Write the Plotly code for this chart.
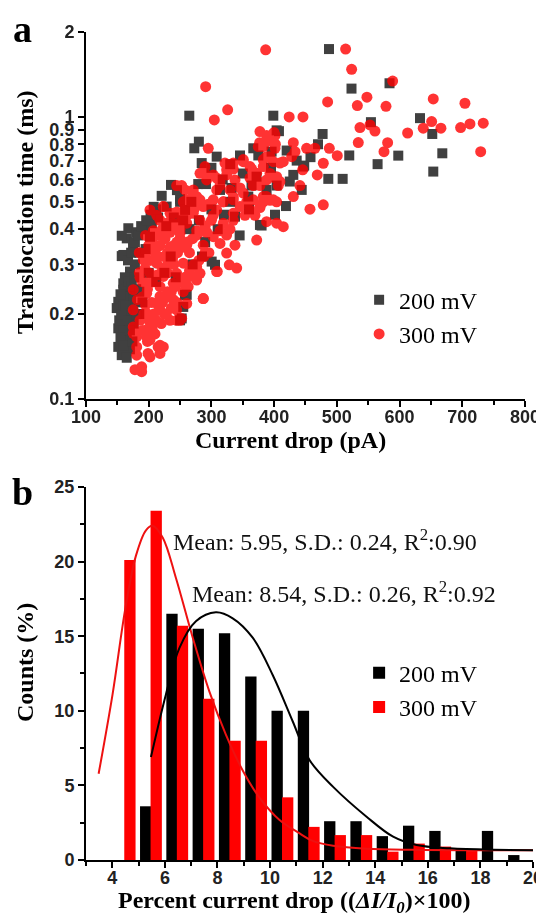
import plotly.graph_objects as go
from plotly.subplots import make_subplots

# ---- panel a: translocation time vs current drop ----
black_drop = [264.7, 398.7, 280, 272.7, 308.4, 284.5, 345.6, 366.8, 374.8, 404,
              235.5, 220.7, 279, 291.3, 228.6, 250, 258, 167.5, 194, 372,
              388, 404, 401.4, 377.4, 337.6, 313.7, 358.8, 487.5, 584, 523.4,
              554.4, 632.6, 652.2, 668.2, 653.8, 477.3, 519.8, 598, 565, 486.4,
              509.3, 418.9, 444, 448, 380, 250, 364, 165, 157, 157,
              151.5, 149, 151.5, 151.5, 157, 159.5, 165, 159.5, 170.2, 164.9,
              159.5, 170.2, 159.5, 159.5, 162.2, 159.5, 191.4, 202, 300.4, 257.9,
              250, 255.1, 305.7, 260.6, 252.6, 172, 168, 175, 165, 170,
              155, 163, 176, 180, 178, 185, 175, 180, 195, 205,
              215, 228, 240, 255, 265, 280, 290, 285, 270, 235,
              225, 212, 200, 190, 185, 243, 320, 330, 300, 268,
              318, 332, 350, 395, 420, 436, 458, 470, 425, 345,
              360, 310, 208, 245, 300, 330, 407.7, 396, 446.5, 430.6,
              153, 156, 160, 163, 167, 170, 155, 162, 168, 173,
              177, 167, 172, 178, 183, 188, 196, 203, 212, 160,
              165, 174, 180, 185]
black_time = [1.01, 1.01, 0.817, 0.774, 0.723, 0.686, 0.73, 0.774, 0.73, 0.896,
              0.574, 0.525, 0.578, 0.578, 0.481, 0.5, 0.468, 0.403, 0.4, 0.614,
              0.551, 0.571, 0.45, 0.414, 0.443, 0.551, 0.522, 1.74, 1.316, 1.26,
              0.958, 0.99, 0.87, 0.743, 0.64, 0.87, 0.73, 0.729, 0.68, 0.603,
              0.603, 0.483, 0.551, 0.672, 0.412, 0.511, 0.571, 0.371, 0.379, 0.321,
              0.221, 0.21, 0.178, 0.153, 0.143, 0.257, 0.244, 0.324, 0.283, 0.264,
              0.244, 0.231, 0.212, 0.176, 0.158, 0.145, 0.4, 0.376, 0.307, 0.234,
              0.19, 0.212, 0.299, 0.234, 0.193, 0.225, 0.2, 0.21, 0.165, 0.15,
              0.165, 0.19, 0.185, 0.245, 0.3, 0.33, 0.35, 0.39, 0.34, 0.42,
              0.44, 0.41, 0.44, 0.43, 0.4, 0.43, 0.36, 0.32, 0.3, 0.32,
              0.28, 0.26, 0.28, 0.22, 0.2, 0.27, 0.45, 0.5, 0.47, 0.5,
              0.6, 0.56, 0.63, 0.66, 0.76, 0.7, 0.72, 0.8, 0.59, 0.38,
              0.47, 0.4, 0.48, 0.55, 0.66, 0.68, 0.89, 0.753, 0.667, 0.623,
              0.19, 0.2, 0.23, 0.215, 0.19, 0.175, 0.235, 0.27, 0.26, 0.25,
              0.27, 0.31, 0.33, 0.36, 0.38, 0.41, 0.43, 0.45, 0.47, 0.155,
              0.14, 0.16, 0.2, 0.24]

red_drop = [386.5, 290.8, 325.9, 304.6, 295, 377.4, 350.8, 374.7, 400, 402,
            289.7, 202, 252.6, 271, 514, 523.6, 589, 548, 653.8, 485.3,
            532.7, 578.4, 704.3, 424, 446, 552.8, 536.9, 560.8, 651.2, 637.8,
            666, 612.9, 697.4, 712.3, 733.5, 729.4, 488, 500.7, 534.2, 581,
            575.2, 468.8, 478.4, 451.8, 465, 457.2, 478.4, 414.6, 372.2, 337.6,
            324.3, 328.5, 340.3, 309.4, 287, 276.5, 430.6, 433.3, 428, 401.4,
            398.7, 401.4, 382.7, 388, 409.3, 414.6, 393.4, 401.4, 409.3, 430.6,
            441.2, 445.5, 377.4, 382.7, 393.4, 377.4, 281.8, 292.4, 303, 313.7,
            324.3, 334.9, 361.5, 372.2, 382.7, 393.4, 406.6, 366.8, 350.8, 334.9,
            319, 303, 287, 271, 255.1, 239.2, 223.3, 212.7, 228.7, 260.6,
            276.5, 308.4, 334.9, 361.5, 382.7, 398.7, 388, 398.7, 377, 388,
            350.8, 321.6, 334.9, 364.2, 382.7, 398.7, 289.7, 308.4, 324.3, 337.6,
            313.7, 329.6, 345.6, 361.5, 374.8, 388, 404, 244.6, 257.9, 271,
            223.3, 234, 255.1, 268.5, 281.8, 295, 308.4, 319, 334.9, 345.6,
            356.2, 366.8, 377.4, 388, 404, 353.5, 369.5, 388, 404, 218,
            239.2, 260.6, 281.8, 303, 319, 334.9, 207.4, 228.7, 249.9, 276.5,
            292.4, 313.7, 329.6, 223.3, 249.9, 276.5, 303, 324.3, 212.7, 234,
            260.6, 287, 313.7, 191.4, 212.7, 234, 255.1, 276.5, 202, 223.3,
            244.6, 265.8, 281.8, 196.8, 218, 239.2, 260.6, 276.5, 308.4, 175.4,
            196.8, 218, 239.2, 260.6, 287, 175.4, 196.8, 218, 244.6, 186.1,
            207.4, 234, 249.9, 175.4, 196.8, 180.8, 202, 175.4, 196.8, 218,
            223.3, 180.8, 202, 218, 180.8, 188.8, 178.1, 188.8, 199, 215,
            244.6, 252.6, 185, 200, 215, 230, 245, 265, 290, 205,
            195, 240, 185, 190, 205, 225, 230, 210, 195, 182,
            192, 200, 208, 215, 222, 230, 236, 242, 250, 258,
            265, 272, 280, 288, 296, 190, 198, 206, 214, 222,
            230, 238, 246, 254, 262, 270, 280, 290, 300, 186,
            194, 202, 210, 218, 226, 234, 242, 252, 262, 272,
            285, 195, 205, 215, 222, 232, 245, 258, 270, 190,
            198, 206, 212, 220, 228, 236, 245, 255, 263, 230,
            240, 250, 225]
red_time = [1.73, 1.28, 1.06, 0.976, 0.774, 0.887, 0.694, 0.785, 0.88, 0.8,
            0.667, 0.468, 0.571, 0.551, 1.74, 1.475, 1.34, 1.175, 1.158, 1.13,
            1.097, 1.09, 1.118, 1.0, 1.0, 0.937, 0.917, 0.891, 0.963, 0.912,
            0.912, 0.877, 0.917, 0.944, 0.95, 0.753, 0.774, 0.729, 0.811, 0.81,
            0.753, 0.623, 0.685, 0.774, 0.774, 0.471, 0.488, 0.408, 0.366, 0.351,
            0.329, 0.299, 0.291, 0.283, 0.227, 0.272, 0.81, 0.753, 0.723, 0.86,
            0.817, 0.774, 0.785, 0.723, 0.686, 0.694, 0.63, 0.607, 0.59, 0.522,
            0.571, 0.649, 0.571, 0.522, 0.506, 0.477, 0.631, 0.598, 0.623, 0.59,
            0.649, 0.686, 0.667, 0.631, 0.667, 0.723, 0.571, 0.571, 0.537, 0.508,
            0.5, 0.508, 0.481, 0.455, 0.448, 0.455, 0.481, 0.448, 0.42, 0.508,
            0.522, 0.551, 0.455, 0.468, 0.5, 0.508, 0.86, 0.873, 0.81, 0.817,
            0.706, 0.686, 0.653, 0.653, 0.706, 0.694, 0.631, 0.607, 0.623, 0.598,
            0.571, 0.551, 0.56, 0.607, 0.59, 0.598, 0.614, 0.571, 0.551, 0.529,
            0.481, 0.455, 0.5, 0.481, 0.508, 0.49, 0.468, 0.5, 0.52, 0.481,
            0.5, 0.508, 0.481, 0.522, 0.5, 0.448, 0.448, 0.425, 0.42, 0.43,
            0.42, 0.42, 0.43, 0.448, 0.42, 0.43, 0.395, 0.39, 0.4, 0.395,
            0.39, 0.395, 0.4, 0.376, 0.387, 0.381, 0.376, 0.381, 0.345, 0.345,
            0.351, 0.351, 0.356, 0.311, 0.303, 0.311, 0.303, 0.294, 0.279, 0.272,
            0.279, 0.272, 0.279, 0.257, 0.25, 0.257, 0.253, 0.264, 0.283, 0.244,
            0.237, 0.231, 0.225, 0.218, 0.227, 0.207, 0.201, 0.207, 0.207, 0.19,
            0.185, 0.19, 0.19, 0.18, 0.176, 0.166, 0.162, 0.171, 0.166, 0.155,
            0.153, 0.153, 0.141, 0.145, 0.143, 0.13, 0.127, 0.125, 0.145, 0.153,
            0.19, 0.193, 0.33, 0.35, 0.32, 0.33, 0.36, 0.33, 0.33, 0.37,
            0.38, 0.3, 0.28, 0.26, 0.22, 0.2, 0.24, 0.17, 0.215, 0.225,
            0.2, 0.19, 0.2, 0.215, 0.22, 0.23, 0.24, 0.25, 0.26, 0.27,
            0.285, 0.3, 0.31, 0.32, 0.33, 0.23, 0.245, 0.26, 0.275, 0.29,
            0.3, 0.315, 0.33, 0.345, 0.36, 0.37, 0.39, 0.41, 0.43, 0.27,
            0.29, 0.31, 0.33, 0.35, 0.37, 0.39, 0.41, 0.43, 0.45, 0.47,
            0.49, 0.33, 0.36, 0.38, 0.4, 0.42, 0.46, 0.48, 0.5, 0.175,
            0.16, 0.175, 0.19, 0.185, 0.2, 0.21, 0.22, 0.24, 0.25, 0.28,
            0.35, 0.37, 0.32]

time_ticks = [0.1, 0.2, 0.3, 0.4, 0.5, 0.6, 0.7, 0.8, 0.9, 1, 2]
time_tick_text = ["0.1", "0.2", "0.3", "0.4", "0.5", "0.6", "0.7", "0.8", "0.9", "1", "2"]

# ---- panel b: histogram of percent current drop ----
black_bins = [5.27, 6.27, 7.27, 8.27, 9.27, 10.27, 11.27, 12.27, 13.27, 14.27,
              15.27, 16.27, 17.27, 18.27, 19.27]
black_counts = [3.6, 16.5, 15.5, 15.2, 12.3, 10.0, 10.0, 2.6, 2.6, 1.6,
                2.3, 1.95, 0.8, 1.95, 0.33]
red_bins = [4.67, 5.67, 6.67, 7.67, 8.67, 9.67, 10.67, 11.67, 12.67, 13.67,
            14.67, 15.67, 16.67, 17.67]
red_counts = [20.1, 23.4, 15.7, 10.8, 8.0, 8.0, 4.2, 2.22, 1.67, 1.67,
              0.56, 1.1, 0.9, 0.6]

# fitted curves
red_fit_x = [3.48, 4.01, 4.5, 4.9, 5.28, 5.53, 5.92, 6.42, 7.06, 7.69, 8.32,
             8.96, 9.59, 10.35, 11.11, 11.6, 12.4, 13.67, 15.5, 17.5, 20.0]
red_fit_y = [5.78, 11.1, 16.9, 20.4, 22.1, 22.4, 21.6, 18.9, 14.9, 11.3, 8.4,
             6.0, 4.2, 2.7, 1.8, 1.3, 0.95, 0.75, 0.68, 0.66, 0.65]
black_fit_x = [5.47, 6.04, 6.55, 7.18, 7.94, 8.58, 9.34, 10.1, 10.86, 11.5,
               12.4, 13.67, 14.68, 15.57, 16.84, 18.5, 20.0]
black_fit_y = [6.9, 11.1, 14.2, 16.0, 16.6, 16.2, 14.9, 12.4, 9.3, 6.7,
               4.9, 2.9, 1.56, 1.0, 0.78, 0.68, 0.66]

serif = "Liberation Serif"
sans = "Liberation Sans"

fig = make_subplots(rows=2, cols=1)

fig.add_trace(go.Scatter(x=black_drop, y=black_time, mode="markers", name="200 mV",
                         marker=dict(symbol="square", size=10, color="#1e1e1e"),
                         opacity=0.85, legend="legend"), row=1, col=1)
fig.add_trace(go.Scatter(x=red_drop, y=red_time, mode="markers", name="300 mV",
                         marker=dict(symbol="circle", size=11, color="#ff0000"),
                         opacity=0.8, legend="legend"), row=1, col=1)

fig.add_trace(go.Bar(x=black_bins, y=black_counts, width=0.43, name="200 mV",
                     marker=dict(color="black", line=dict(width=0)),
                     legend="legend2"), row=2, col=1)
fig.add_trace(go.Bar(x=red_bins, y=red_counts, width=0.43, name="300 mV",
                     marker=dict(color="#ff0000", line=dict(width=0)),
                     legend="legend2"), row=2, col=1)
fig.add_trace(go.Scatter(x=red_fit_x, y=red_fit_y, mode="lines", showlegend=False,
                         line=dict(color="#ee1111", width=2, shape="spline")),
              row=2, col=1)
fig.add_trace(go.Scatter(x=black_fit_x, y=black_fit_y, mode="lines", showlegend=False,
                         line=dict(color="black", width=2, shape="spline")),
              row=2, col=1)

axis_style = dict(showline=True, linecolor="black", linewidth=2, ticks="outside",
                  ticklen=6, tickwidth=1.5, tickcolor="black", showgrid=False,
                  zeroline=False, mirror=False, automargin=False,
                  tickfont=dict(family=sans, size=18, color="#222", weight="bold"))
title_font = dict(family=serif, size=24, color="black", weight="bold")
minor_style = dict(ticks="outside", ticklen=4, tickwidth=1.5, tickcolor="black")

fig.update_xaxes(axis_style)
fig.update_yaxes(axis_style)


def axis_title(text, x, y, angle=0):
    # titles sit a bit off the axis centre in the original, so place them by hand
    return dict(text=text, x=x, y=y, xref="paper", yref="paper",
                xanchor="center", yanchor="middle", textangle=angle,
                showarrow=False, font=title_font)


# the page body has an 8px margin, so the figure is 8px smaller than the window
fig.update_layout(
    width=536, height=909,
    margin=dict(l=78, r=11, t=24, b=57),
    plot_bgcolor="white", paper_bgcolor="white",
    barmode="overlay",
    xaxis=dict(domain=[0, 0.982], range=[100, 800], dtick=100, ticklabelstandoff=-6,
               minor=dict(dtick=50, **minor_style)),
    yaxis=dict(domain=[0.5568, 1], type="log", range=[-1, 0.30103],
               tickvals=time_ticks, ticktext=time_tick_text),
    xaxis2=dict(domain=[0, 1], range=[3, 20], tickvals=list(range(4, 21, 2)),
                ticklabelstandoff=-6, minor=dict(dtick=1, **minor_style)),
    yaxis2=dict(domain=[0, 0.4505], range=[0, 25], dtick=5,
                minor=dict(dtick=2.5, **minor_style)),
    legend=dict(x=0.611, y=0.7033, xanchor="left", yanchor="top",
                bgcolor="rgba(0,0,0,0)",
                font=dict(family=serif, size=24, color="black")),
    legend2=dict(x=0.611, y=0.2528, xanchor="left", yanchor="top",
                 bgcolor="rgba(0,0,0,0)",
                 font=dict(family=serif, size=24, color="black")),
    annotations=[
        axis_title("Current drop (pA)", 0.4586, 0.507),
        axis_title("Translocation time (ms)", -0.1365, 0.7826, -90),
        axis_title("Percent current drop ((<i>ΔI/I<sub>0</sub></i>)×100)", 0.465, -0.051),
        axis_title("Counts (%)", -0.1365, 0.2391, -90),
        dict(text="<b>a</b>", x=-0.143, y=1.004, xref="paper", yref="paper",
             xanchor="center", yanchor="middle",
             showarrow=False, font=dict(family=serif, size=38, color="black")),
        dict(text="<b>b</b>", x=-0.143, y=0.444, xref="paper", yref="paper",
             xanchor="center", yanchor="middle",
             showarrow=False, font=dict(family=serif, size=38, color="black")),
        dict(text="Mean: 5.95, S.D.: 0.24, R<sup>2</sup>:0.90", x=0.190, y=0.386,
             xref="paper", yref="paper", xanchor="left", yanchor="middle",
             showarrow=False, font=dict(family=serif, size=24, color="#111")),
        dict(text="Mean: 8.54, S.D.: 0.26, R<sup>2</sup>:0.92", x=0.2327, y=0.3234,
             xref="paper", yref="paper", xanchor="left", yanchor="middle",
             showarrow=False, font=dict(family=serif, size=24, color="#111")),
    ],
)

fig.write_html("out.html")
